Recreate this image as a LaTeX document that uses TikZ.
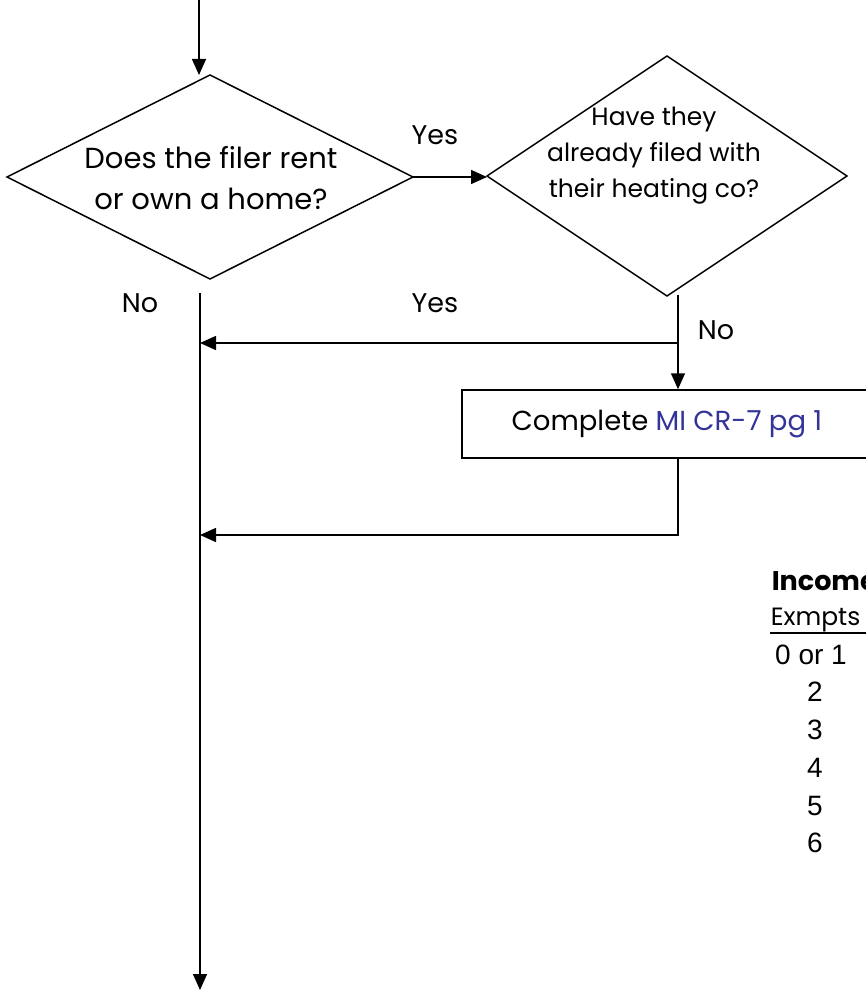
\documentclass[tikz,border=0pt]{standalone}
\usepackage{fontspec}
\setmainfont{Poppins}
\newfontfamily\numfont{Liberation Sans}
\usetikzlibrary{arrows.meta,shapes.geometric}
\definecolor{formblue}{RGB}{51,51,153}
\begin{document}
\begin{tikzpicture}[x=1pt,y=-1pt,
  line width=1.5pt,
  arr/.style={-{Triangle[length=16pt,width=14pt]}},
  dec/.style={diamond, draw, inner sep=0pt, outer sep=0pt},
  qtext/.style={align=center, inner sep=0pt},
  lbl/.style={inner sep=0pt, font=\fontsize{27}{30}\selectfont},
  num/.style={inner sep=0pt, font=\numfont\fontsize{28}{32}\selectfont}]
\useasboundingbox (0,0) rectangle (866,992);
\clip (0,0) rectangle (866,992);

% decisions
\node[dec, minimum width=406pt, minimum height=204pt] (ask) at (210,177) {};
\node[qtext, font=\fontsize{29}{41}\selectfont] (askt) at (211,178) {Does the filer rent\\or own a home?};
\node[dec, minimum width=360pt, minimum height=240pt] (heat) at (667,176) {};
\node[qtext, font=\fontsize{25}{36}\selectfont] (heatt) at (654,156) {Have they\\already filed with\\their heating co?};

% action box
\node[draw, minimum width=410pt, minimum height=68pt, inner sep=0pt,
      font=\fontsize{27.5}{32}\selectfont] (cr7) at (667,424)
      {Complete \textcolor{formblue}{MI CR-7 pg 1}};

% branch labels
\node[lbl] (yes1) at (435,135) {Yes};
\node[lbl] (no1) at (140,303) {No};
\node[lbl] (yes2) at (435,303) {Yes};
\node[lbl] (no2) at (716,330) {No};

% connectors
\coordinate (start) at (199,0);
\draw[arr] (start) -- (start |- ask.north);
\draw[arr] (ask.east) -- (ask.east -| heat.west);
\coordinate (mtop) at (200,293);
\coordinate (mend) at (200,990);
\draw[arr] (mtop) -- (mend);
\coordinate (hdrop) at (678,295);
\coordinate (yesjoin) at (678,343);
\draw[arr] (hdrop) -- (hdrop |- cr7.north);
\draw[arr] (yesjoin) -- (yesjoin -| mtop);
\coordinate (back) at (678,535);
\draw[arr] (cr7.south -| back) -- (back) -- (back -| mtop);

% income table
\node[anchor=base west, inner sep=0pt, font=\bfseries\fontsize{27}{30}\selectfont] (inc) at (771,590) {Income};
\node[anchor=base west, inner sep=0pt, font=\fontsize{25}{28}\selectfont] (ex) at (770,625) {Exmpts};
\draw[line width=1.8pt] (770,633) -- (866,633);
\node[num] (r1) at (811,655) {0 or 1};
\node[num] (r2) at (815,692) {2};
\node[num] (r3) at (815,730) {3};
\node[num] (r4) at (815,768) {4};
\node[num] (r5) at (815,806) {5};
\node[num] (r6) at (815,843) {6};
\end{tikzpicture}
\end{document}
